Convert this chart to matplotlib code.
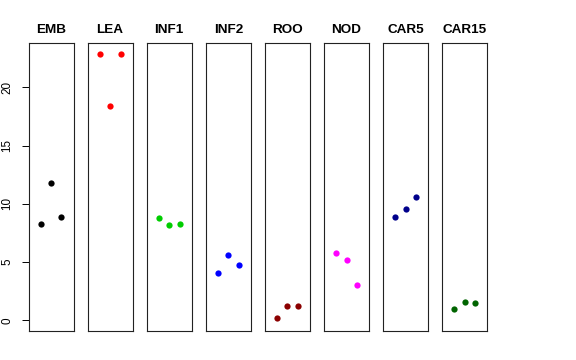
import numpy as np
import matplotlib
matplotlib.use("Agg")
import matplotlib.pyplot as plt

plt.rcParams["font.family"] = ["Liberation Sans", "DejaVu Sans"]

groups = ["EMB", "LEA", "INF1", "INF2", "ROO", "NOD", "CAR5", "CAR15"]
colors = ["black", "red", "#00CD00", "blue", "#8B0000", "magenta", "#00008B", "#006400"]
reps = [1, 2, 3]
values = [
    [8.3, 11.8, 8.9],
    [22.9, 18.4, 22.9],
    [8.8, 8.2, 8.25],
    [4.05, 5.6, 4.75],
    [0.2, 1.25, 1.25],
    [5.75, 5.2, 3.0],
    [8.85, 9.55, 10.6],
    [1.0, 1.6, 1.5],
]
yticks = [0, 5, 10, 15, 20]

W, H = 576, 360
fig = plt.figure(figsize=(W / 100, H / 100), dpi=100)

left0 = 28.5
step = 59.1
pw = 45.0
top, bottom = 42.7, 331.0

for i, (name, col, vals) in enumerate(zip(groups, colors, values)):
    x0 = left0 + step * i
    ax = fig.add_axes([x0 / W, 1 - bottom / H, pw / W, (bottom - top) / H])
    ax.plot(reps, vals, "o", color=col, markersize=4.5, markeredgewidth=0)
    ax.set_xlim(-0.16, 4.16)
    ax.set_ylim(-0.92, 23.83)
    ax.set_xticks([])
    for s in ax.spines.values():
        s.set_linewidth(0.8)
        s.set_color("#222222")
    ax.set_title(name, fontsize=9.7, fontweight="bold", pad=7)
    if i == 0:
        ax.set_yticks(yticks)
        ax.tick_params(axis="y", length=5, width=0.7, labelsize=8.4,
                       pad=6, labelrotation=90)
        for lab in ax.get_yticklabels():
            lab.set_va("center")
    else:
        ax.set_yticks([])

fig.savefig("out.png", dpi=100)
